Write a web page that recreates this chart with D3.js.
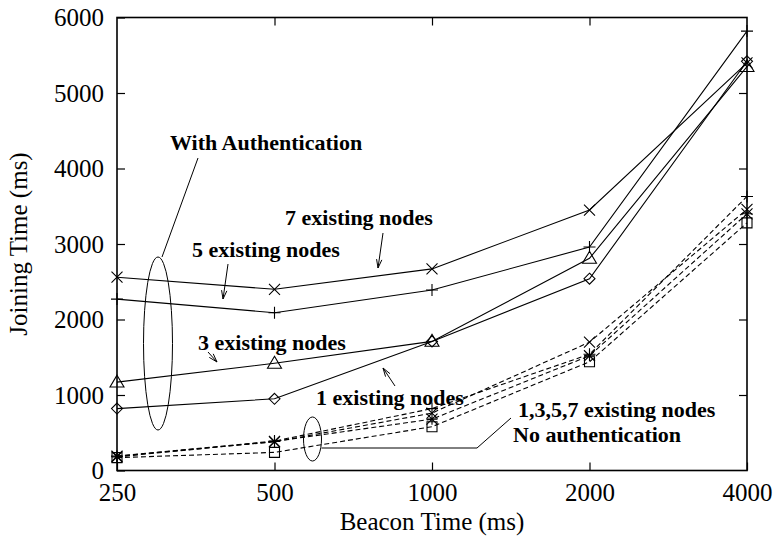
<!DOCTYPE html>
<html>
<head>
<meta charset="utf-8">
<script src="https://cdn.jsdelivr.net/npm/d3@7"></script>
<style>
  html, body { margin: 0; padding: 0; background: #fff; }
  svg { display: block; }
  text { font-family: "Liberation Serif", "Times New Roman", serif; fill: #000; }
</style>
</head>
<body>
<svg id="chart" width="776" height="538"></svg>
<script>
// Beacon periods (ms) on a doubling axis
const beaconTimes = [250, 500, 1000, 2000, 4000];
const yTicks = [0, 1000, 2000, 3000, 4000, 5000, 6000];

// Joining time (ms) with authentication, by number of existing nodes
const auth1 = [820, 950, 1710, 2540, 5420];
const auth3 = [1170, 1420, 1710, 2810, 5350];
const auth5 = [2270, 2090, 2390, 2960, 5820];
const auth7 = [2560, 2400, 2670, 3450, 5400];

// Joining time (ms) without authentication
const noAuth1 = [170, 240, 580, 1440, 3280];
const noAuth3 = [180, 385, 680, 1520, 3400];
const noAuth5 = [190, 390, 820, 1540, 3630];
const noAuth7 = [190, 380, 760, 1700, 3460];

const series = [
  { values: auth1, marker: "diamond", dashed: false },
  { values: auth5, marker: "plus", dashed: false },
  { values: auth7, marker: "cross", dashed: false },
  { values: auth3, marker: "triangle", dashed: false },
  { values: noAuth5, marker: "plus", dashed: true },
  { values: noAuth1, marker: "square", dashed: true },
  { values: noAuth7, marker: "cross", dashed: true },
  { values: noAuth3, marker: "star", dashed: true }
];

const SERIF = "'Liberation Serif', 'Times New Roman', serif";
const svg = d3.select("#chart");
const plotLeft = 117, plotRight = 747, plotTop = 17.5, plotBottom = 470.5;

const x = d3.scaleLog().base(2).domain([250, 4000]).range([plotLeft, plotRight]);
const y = d3.scaleLinear().domain([0, 6000]).range([plotBottom, plotTop]);

// Axes with inward ticks, mirrored on the top and right
const tl = 8;
const ax = svg.append("g").attr("class", "axes");
const styleAxis = g => {
  g.attr("font-family", SERIF).attr("font-size", 25);
  g.select(".domain").remove();
  g.selectAll("line").attr("stroke", "#000").attr("stroke-width", 1.2);
  g.selectAll("text").attr("fill", "#000").style("font-family", SERIF).style("font-size", "25px");
};
ax.append("g").attr("transform", `translate(${plotLeft},0)`)
  .call(d3.axisLeft(y).tickValues(yTicks).tickSize(-tl).tickPadding(13).tickFormat(d3.format("d")))
  .call(styleAxis);
ax.append("g").attr("transform", `translate(${plotRight},0)`)
  .call(d3.axisRight(y).tickValues(yTicks.slice(1, -1)).tickSize(-tl).tickFormat(""))
  .call(styleAxis);
ax.append("g").attr("transform", `translate(0,${plotBottom})`)
  .call(d3.axisBottom(x).tickValues(beaconTimes).tickSize(-tl).tickPadding(13).tickFormat(d3.format("d")))
  .call(styleAxis);
ax.append("g").attr("transform", `translate(0,${plotTop})`)
  .call(d3.axisTop(x).tickValues(beaconTimes.slice(1, -1)).tickSize(-tl).tickFormat(""))
  .call(styleAxis);

svg.append("rect")
  .attr("x", plotLeft).attr("y", plotTop)
  .attr("width", plotRight - plotLeft).attr("height", plotBottom - plotTop)
  .attr("fill", "none").attr("stroke", "#000").attr("stroke-width", 1.6);

// Axis titles
svg.append("text")
  .attr("x", (plotLeft + plotRight) / 2).attr("y", 530)
  .attr("text-anchor", "middle").style("font-family", SERIF).style("font-size", "25px")
  .text("Beacon Time (ms)");
svg.append("text")
  .attr("transform", `translate(27,${(plotTop + plotBottom) / 2}) rotate(-90)`)
  .attr("text-anchor", "middle").style("font-family", SERIF).style("font-size", "25px")
  .text("Joining Time (ms)");

// Lines
const line = d3.line().x((d, i) => x(beaconTimes[i])).y(d => y(d));
const plot = svg.append("g");
series.forEach(s => {
  plot.append("path")
    .attr("d", line(s.values))
    .attr("fill", "none").attr("stroke", "#000").attr("stroke-width", 1.1)
    .attr("stroke-dasharray", s.dashed ? "5,3" : null);
});

// Point markers
function markerPath(type, cx, cy) {
  const p = d3.path();
  if (type === "plus") {
    const r = 6;
    p.moveTo(cx - r, cy); p.lineTo(cx + r, cy);
    p.moveTo(cx, cy - r); p.lineTo(cx, cy + r);
  } else if (type === "cross") {
    const r = 5.5;
    p.moveTo(cx - r, cy - r); p.lineTo(cx + r, cy + r);
    p.moveTo(cx - r, cy + r); p.lineTo(cx + r, cy - r);
  } else if (type === "star") {
    const r = 5.5;
    p.moveTo(cx - r, cy); p.lineTo(cx + r, cy);
    p.moveTo(cx, cy - r); p.lineTo(cx, cy + r);
    p.moveTo(cx - r, cy - r); p.lineTo(cx + r, cy + r);
    p.moveTo(cx - r, cy + r); p.lineTo(cx + r, cy - r);
  } else if (type === "square") {
    const r = 5;
    p.rect(cx - r, cy - r, 2 * r, 2 * r);
  } else if (type === "diamond") {
    const r = 5.5;
    p.moveTo(cx, cy - r); p.lineTo(cx + r, cy); p.lineTo(cx, cy + r); p.lineTo(cx - r, cy); p.closePath();
  } else if (type === "triangle") {
    const r = 7;
    p.moveTo(cx, cy - r); p.lineTo(cx + r, cy + r * 0.7); p.lineTo(cx - r, cy + r * 0.7); p.closePath();
  }
  return p.toString();
}
series.forEach(s => {
  plot.selectAll(null).data(s.values).enter().append("path")
    .attr("d", (d, i) => markerPath(s.marker, x(beaconTimes[i]), y(d)))
    .attr("fill", "none").attr("stroke", "#000").attr("stroke-width", 1.1);
});

// Annotations
const note = svg.append("g");
const stroke = sel => sel.attr("fill", "none").attr("stroke", "#000").attr("stroke-width", 1);

function arrow(x1, y1, x2, y2) {
  note.append("line").attr("x1", x1).attr("y1", y1).attr("x2", x2).attr("y2", y2).call(stroke);
  const a = Math.atan2(y2 - y1, x2 - x1), h = 9, w = 0.3;
  const p = d3.path();
  p.moveTo(x2 - h * Math.cos(a - w), y2 - h * Math.sin(a - w));
  p.lineTo(x2, y2);
  p.lineTo(x2 - h * Math.cos(a + w), y2 - h * Math.sin(a + w));
  note.append("path").attr("d", p.toString()).call(stroke);
}
function label(tx, ty, str) {
  note.append("text").attr("x", tx).attr("y", ty)
    .style("font-family", SERIF).style("font-size", "22px").style("font-weight", "bold").text(str);
}

// Authenticated group
note.append("ellipse").attr("cx", 158).attr("cy", 343.5).attr("rx", 14.5).attr("ry", 86.5).call(stroke);
note.append("line").attr("x1", 198).attr("y1", 158).attr("x2", 162).attr("y2", 257).call(stroke);
label(170, 150, "With Authentication");

label(285, 225, "7 existing nodes");
arrow(383, 233, 378, 268);
label(192, 257, "5 existing nodes");
arrow(228, 264, 223, 299);
label(198, 350, "3 existing nodes");
arrow(208, 352, 217, 362);
label(316, 405, "1 existing nodes");
arrow(395, 386, 383, 368);

// Unauthenticated group
note.append("ellipse").attr("cx", 312.5).attr("cy", 439).attr("rx", 9).attr("ry", 22).call(stroke);
note.append("path").attr("d", "M321.5,448L477,448L511,418").call(stroke);
label(518, 417, "1,3,5,7 existing nodes");
label(513, 442, "No authentication");
</script>
</body>
</html>
